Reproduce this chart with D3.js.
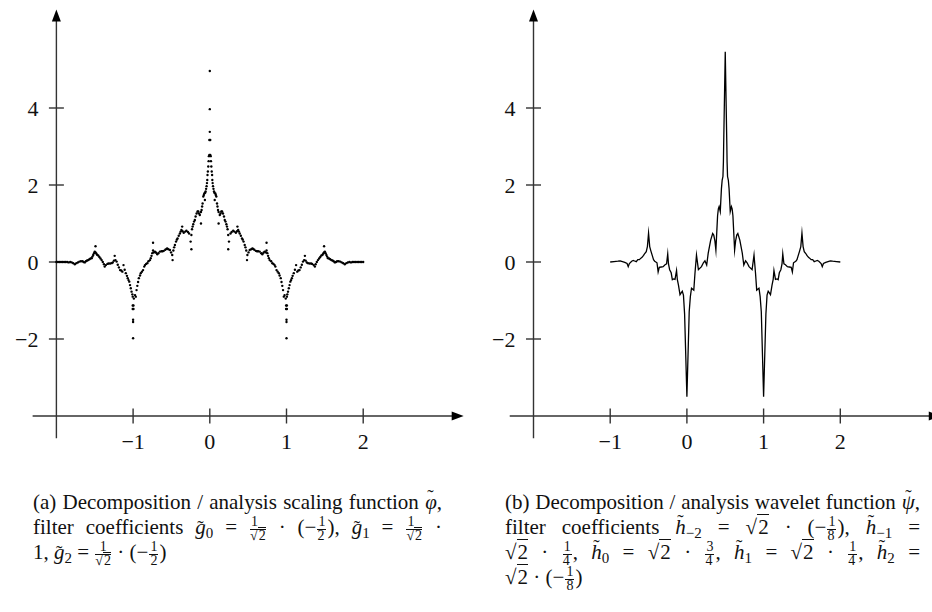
<!DOCTYPE html>
<html lang="en">
<head>
    <meta charset="UTF-8">
    <title>Decomposition scaling and wavelet functions</title>
    <script src="https://d3js.org/d3.v7.min.js"></script>
    <style>
        body {
            margin: 0;
            background: #fff;
            font-family: "Liberation Serif", "Times New Roman", serif;
        }
        #chart {
            position: absolute;
            left: 0;
            top: 0;
        }
        .tick-label {
            font-family: "Liberation Serif", "Times New Roman", serif;
            font-size: 22px;
            fill: #111;
        }
        .cap {
            position: absolute;
            font-size: 21px;
            color: #111;
        }
        .ln {
            height: 25px;
            line-height: 25px;
            white-space: nowrap;
        }
        .ln.j {
            text-align: justify;
            text-align-last: justify;
            white-space: normal;
        }
        .frac {
            display: inline-flex;
            flex-direction: column;
            vertical-align: middle;
            font-size: 14px;
            line-height: 12px;
            text-align: center;
            margin: 0 1px;
        }
        .frac .num {
            border-bottom: 1px solid #111;
            padding: 0 1px 1px 1px;
        }
        .sq {
            border-top: 1px solid #111;
            padding-left: 1px;
        }
        /* zero-width tilde accent, shifted over the preceding letter */
        .tz {
            display: inline-block;
            width: 0;
            position: relative;
            white-space: nowrap;
            font-style: normal;
            font-size: 19px;
        }
        .tz.g { left: -8.5px; top: 0px; }
        .tz.h { left: -8.5px; top: -6px; }
        .tz.p { left: -9.5px; top: -6px; }
        sub {
            font-size: 15px;
            line-height: 0;
            vertical-align: -4px;
        }
        i { font-style: italic; }
    </style>
</head>
<body>
    <svg id="chart" width="932" height="612"></svg>

    <div class="cap" style="left:33px; top:490px; width:409px">
        <div class="ln j">(a) Decomposition / analysis scaling function <i>φ</i><span class="tz p">˜</span>,</div>
        <div class="ln j">filter coefficients <i>g</i><span class="tz g">˜</span><sub>0</sub> = <span class="frac"><span class="num">1</span><span>√<span class="sq">2</span></span></span> · (−<span class="frac"><span class="num">1</span><span>2</span></span>), <i>g</i><span class="tz g">˜</span><sub>1</sub> = <span class="frac"><span class="num">1</span><span>√<span class="sq">2</span></span></span> ·</div>
        <div class="ln">1, <i>g</i><span class="tz g">˜</span><sub>2</sub> = <span class="frac"><span class="num">1</span><span>√<span class="sq">2</span></span></span> · (−<span class="frac"><span class="num">1</span><span>2</span></span>)</div>
    </div>

    <div class="cap" style="left:505px; top:490px; width:415px">
        <div class="ln j">(b) Decomposition / analysis wavelet function <i>ψ</i><span class="tz p">˜</span>,</div>
        <div class="ln j">filter coefficients <i>h</i><span class="tz h">˜</span><sub>−2</sub> = √<span class="sq">2</span> · (−<span class="frac"><span class="num">1</span><span>8</span></span>), <i>h</i><span class="tz h">˜</span><sub>−1</sub> =</div>
        <div class="ln j">√<span class="sq">2</span> · <span class="frac"><span class="num">1</span><span>4</span></span>, <i>h</i><span class="tz h">˜</span><sub>0</sub> = √<span class="sq">2</span> · <span class="frac"><span class="num">3</span><span>4</span></span>, <i>h</i><span class="tz h">˜</span><sub>1</sub> = √<span class="sq">2</span> · <span class="frac"><span class="num">1</span><span>4</span></span>, <i>h</i><span class="tz h">˜</span><sub>2</sub> =</div>
        <div class="ln">√<span class="sq">2</span> · (−<span class="frac"><span class="num">1</span><span>8</span></span>)</div>
    </div>

    <script>
        // tick values shared by both panels
        const xTicks = [-1, 0, 1, 2];
        const yTicks = [-2, 0, 2, 4];

        const scalingDots = [
            [-2.00,0],[-1.98,0],[-1.96,0],[-1.94,0],[-1.92,0],[-1.90,0],[-1.88,0],[-1.86,0],[-1.84,-0.01],[-1.82,0],
            [-1.80,-0.01],[-1.78,-0.03],[-1.76,-0.06],[-1.74,-0.03],[-1.72,-0.01],[-1.70,0.01],[-1.68,0.02],[-1.66,0.02],
            [-1.645,0.0],[-1.63,-0.01],[-1.615,0.02],[-1.60,0.04],[-1.585,0.05],[-1.57,0.07],[-1.555,0.09],[-1.54,0.10],
            [-1.53,0.14],[-1.52,0.18],[-1.51,0.23],[-1.50,0.27],[-1.49,0.41],[-1.49,0.25],[-1.48,0.22],[-1.47,0.19],
            [-1.455,0.17],[-1.44,0.13],[-1.425,0.09],[-1.41,0.05],[-1.395,0.0],[-1.38,-0.06],[-1.37,-0.12],[-1.355,-0.08],
            [-1.335,-0.05],[-1.32,-0.04],[-1.30,-0.04],[-1.28,-0.03],[-1.265,-0.01],[-1.25,0.035],[-1.24,0.16],[-1.23,0.05],
            [-1.215,0.01],[-1.20,-0.07],[-1.185,-0.14],[-1.17,-0.21],[-1.155,-0.22],[-1.14,-0.25],[-1.125,-0.08],[-1.11,-0.20],
            [-1.095,-0.29],[-1.08,-0.36],[-1.07,-0.42],[-1.06,-0.47],[-1.05,-0.51],[-1.04,-0.60],[-1.03,-0.68],[-1.02,-0.77],
            [-1.01,-0.84],[-1.005,-0.90],[-1.005,-1.13],[-1.005,-1.22],[-1.0,-1.50],[-1.0,-1.56],[-1.0,-1.98],
            [-0.995,-1.13],[-0.995,-1.22],[-0.99,-0.95],[-0.975,-0.86],[-0.965,-0.90],[-0.955,-0.73],[-0.945,-0.62],
            [-0.935,-0.52],[-0.925,-0.42],[-0.91,-0.35],[-0.90,-0.29],[-0.885,-0.25],[-0.87,-0.21],[-0.855,-0.12],
            [-0.845,-0.08],[-0.83,-0.05],[-0.815,-0.03],[-0.80,0.02],[-0.78,0.05],[-0.77,0.10],[-0.76,0.16],[-0.75,0.23],
            [-0.74,0.50],[-0.74,0.30],[-0.73,0.25],[-0.715,0.27],[-0.70,0.24],[-0.685,0.20],[-0.67,0.23],[-0.65,0.27],
            [-0.63,0.28],[-0.615,0.28],[-0.60,0.29],[-0.58,0.32],[-0.565,0.34],[-0.555,0.35],[-0.54,0.33],[-0.52,0.31],
            [-0.505,0.25],[-0.49,0.18],[-0.485,0.05],[-0.475,0.30],[-0.465,0.38],[-0.455,0.44],[-0.44,0.53],[-0.43,0.58],
            [-0.42,0.61],[-0.405,0.68],[-0.39,0.74],[-0.38,0.79],[-0.37,0.83],[-0.36,0.92],[-0.355,0.80],[-0.34,0.76],
            [-0.32,0.79],[-0.305,0.81],[-0.285,0.78],[-0.27,0.74],[-0.25,0.53],[-0.24,0.33],[-0.24,0.70],[-0.232,0.85],
            [-0.224,0.92],[-0.216,0.98],[-0.205,1.05],[-0.195,1.09],[-0.185,1.18],[-0.172,1.26],[-0.16,1.31],[-0.15,1.31],
            [-0.14,1.26],[-0.13,1.22],[-0.115,1.00],[-0.115,1.30],[-0.107,1.35],[-0.10,1.44],[-0.094,1.52],[-0.085,1.70],
            [-0.078,1.74],[-0.072,1.78],[-0.064,1.61],[-0.06,1.80],[-0.055,1.83],[-0.048,1.90],[-0.042,1.97],[-0.037,2.05],
            [-0.033,2.13],[-0.03,2.26],[-0.025,2.35],[-0.02,2.48],[-0.015,2.62],[-0.012,2.75],[-0.006,2.78],[-0.006,3.17],
            [0,3.38],[0,3.97],[0,4.96],
            [0.006,3.17],[0.006,2.78],[0.012,2.75],[0.015,2.62],[0.02,2.48],[0.025,2.35],[0.03,2.26],[0.033,2.13],
            [0.037,2.05],[0.042,1.97],[0.048,1.90],[0.055,1.83],[0.06,1.80],[0.064,1.61],[0.072,1.78],[0.078,1.74],
            [0.085,1.70],[0.094,1.52],[0.10,1.44],[0.107,1.35],[0.115,1.30],[0.115,1.00],[0.13,1.22],[0.14,1.26],
            [0.15,1.31],[0.16,1.31],[0.172,1.26],[0.185,1.18],[0.195,1.09],[0.205,1.05],[0.216,0.98],[0.224,0.92],
            [0.232,0.85],[0.24,0.70],[0.24,0.33],[0.25,0.53],[0.27,0.74],[0.285,0.78],[0.305,0.81],[0.32,0.79],
            [0.34,0.76],[0.355,0.80],[0.36,0.92],[0.37,0.83],[0.38,0.79],[0.39,0.74],[0.405,0.68],[0.42,0.61],
            [0.43,0.58],[0.44,0.53],[0.455,0.44],[0.465,0.38],[0.475,0.30],[0.485,0.05],[0.49,0.18],[0.505,0.25],
            [0.52,0.31],[0.54,0.33],[0.555,0.35],[0.565,0.34],[0.58,0.32],[0.60,0.29],[0.615,0.28],[0.63,0.28],
            [0.65,0.27],[0.67,0.23],[0.685,0.20],[0.70,0.24],[0.715,0.27],[0.73,0.25],[0.74,0.30],[0.74,0.50],
            [0.75,0.23],[0.76,0.16],[0.77,0.10],[0.78,0.05],[0.80,0.02],[0.815,-0.03],[0.83,-0.05],[0.845,-0.08],
            [0.855,-0.12],[0.87,-0.21],[0.885,-0.25],[0.90,-0.29],[0.91,-0.35],[0.925,-0.42],[0.935,-0.52],[0.945,-0.62],
            [0.955,-0.73],[0.965,-0.90],[0.975,-0.86],[0.99,-0.95],[0.995,-1.22],[0.995,-1.13],
            [1.0,-1.98],[1.0,-1.56],[1.0,-1.50],[1.005,-1.22],[1.005,-1.13],[1.005,-0.90],[1.01,-0.84],[1.02,-0.77],
            [1.03,-0.68],[1.04,-0.60],[1.05,-0.51],[1.06,-0.47],[1.07,-0.42],[1.08,-0.36],[1.095,-0.29],[1.11,-0.20],
            [1.125,-0.08],[1.14,-0.25],[1.155,-0.22],[1.17,-0.21],[1.185,-0.14],[1.20,-0.07],[1.215,0.01],[1.23,0.05],
            [1.24,0.16],[1.25,0.035],[1.265,-0.01],[1.28,-0.03],[1.30,-0.04],[1.32,-0.04],[1.335,-0.05],[1.355,-0.08],
            [1.37,-0.12],[1.38,-0.06],[1.395,0.0],[1.41,0.05],[1.425,0.09],[1.44,0.13],[1.455,0.17],[1.47,0.19],
            [1.48,0.22],[1.49,0.25],[1.49,0.41],[1.50,0.27],[1.51,0.23],[1.52,0.18],[1.53,0.14],[1.54,0.10],
            [1.555,0.09],[1.57,0.07],[1.585,0.05],[1.60,0.04],[1.615,0.02],[1.63,-0.01],[1.645,0.0],[1.66,0.02],
            [1.68,0.02],[1.70,0.01],[1.72,-0.01],[1.74,-0.03],[1.76,-0.06],[1.78,-0.03],[1.80,-0.01],[1.82,0],
            [1.84,-0.01],[1.86,0],[1.88,0],[1.90,0],[1.92,0],[1.94,0],[1.96,0],[1.98,0],[2.00,0]
        ];

        // (b) wavelet function, polyline vertices: [t, psi(t)]
        const waveletPts = [
            [-1.00,0],[-0.95,0.01],[-0.90,0.02],[-0.87,0.03],[-0.84,0.01],[-0.81,-0.01],[-0.78,-0.04],[-0.765,-0.12],
            [-0.75,-0.04],[-0.72,0.02],[-0.70,0.04],[-0.675,0.02],[-0.66,0.01],[-0.64,0.06],[-0.62,0.06],[-0.60,0.10],
            [-0.585,0.12],[-0.565,0.17],[-0.55,0.22],[-0.53,0.27],[-0.515,0.40],[-0.50,0.75],[-0.485,0.40],[-0.47,0.29],
            [-0.45,0.16],[-0.435,0.06],[-0.42,0.02],[-0.405,0.00],[-0.39,-0.02],[-0.375,-0.26],[-0.36,-0.14],[-0.335,-0.13],
            [-0.31,-0.12],[-0.285,-0.07],[-0.265,-0.05],[-0.25,0.21],[-0.24,-0.05],[-0.225,-0.20],[-0.205,-0.28],
            [-0.19,-0.46],[-0.175,-0.44],[-0.155,-0.45],[-0.135,-0.22],[-0.125,-0.45],[-0.11,-0.60],[-0.09,-0.85],
            [-0.075,-0.80],[-0.06,-0.76],[-0.045,-0.86],[-0.03,-1.35],[0.00,-3.50],[0.03,-1.29],[0.045,-0.90],
            [0.06,-0.68],[0.09,-0.73],[0.105,-0.30],[0.125,0.18],[0.15,-0.20],[0.19,-0.12],[0.215,-0.02],[0.235,0.03],
            [0.258,-0.08],[0.278,0.23],[0.31,0.57],[0.336,0.74],[0.35,0.70],[0.365,0.55],[0.378,0.31],[0.39,0.80],
            [0.40,1.20],[0.41,1.38],[0.42,1.44],[0.435,1.31],[0.45,1.90],[0.46,2.13],[0.47,2.22],[0.476,2.60],
            [0.479,3.00],[0.50,5.46],
            [0.521,3.00],[0.524,2.60],[0.53,2.22],[0.54,2.13],[0.55,1.90],[0.565,1.31],[0.58,1.44],[0.59,1.38],
            [0.60,1.20],[0.61,0.80],[0.622,0.31],[0.635,0.55],[0.65,0.70],[0.664,0.74],[0.69,0.57],[0.722,0.23],
            [0.742,-0.08],[0.765,0.03],[0.785,-0.02],[0.81,-0.12],[0.85,-0.20],[0.875,0.18],[0.895,-0.30],[0.91,-0.73],
            [0.94,-0.68],[0.955,-0.90],[0.97,-1.29],[1.00,-3.50],[1.03,-1.35],[1.045,-0.86],[1.06,-0.76],[1.075,-0.80],
            [1.09,-0.85],[1.11,-0.60],[1.125,-0.45],[1.135,-0.22],[1.155,-0.45],[1.175,-0.44],[1.19,-0.46],[1.205,-0.28],
            [1.225,-0.20],[1.24,-0.05],[1.25,0.21],[1.265,-0.05],[1.285,-0.07],[1.31,-0.12],[1.335,-0.13],[1.36,-0.14],
            [1.375,-0.26],[1.39,-0.02],[1.405,0.00],[1.42,0.02],[1.435,0.06],[1.45,0.16],[1.47,0.29],[1.485,0.40],
            [1.50,0.75],[1.515,0.40],[1.53,0.27],[1.55,0.22],[1.565,0.17],[1.585,0.12],[1.60,0.10],[1.62,0.06],
            [1.64,0.06],[1.66,0.01],[1.675,0.02],[1.70,0.04],[1.72,0.02],[1.75,-0.04],[1.765,-0.12],[1.78,-0.04],
            [1.81,-0.01],[1.84,0.01],[1.87,0.03],[1.90,0.02],[1.95,0.01],[2.00,0]
        ];

        const svg = d3.select("#chart");
        const axisColor = "#333";

        function drawPanel(left) {
            const x = d3.scaleLinear().domain([-2, 2]).range([left, left + 306.8]);
            const y = d3.scaleLinear().domain([-4, 4]).range([416, 108]);
            const g = svg.append("g");

            // x axis with arrow
            g.append("line")
                .attr("x1", x(-2.31)).attr("x2", x(3.16))
                .attr("y1", y(-4)).attr("y2", y(-4))
                .attr("stroke", axisColor).attr("stroke-width", 1.4);
            g.append("path")
                .attr("d", `M${x(3.31)},${y(-4)} L${x(3.31) - 12},${y(-4) - 4.5} L${x(3.31) - 12},${y(-4) + 4.5} Z`)
                .attr("fill", "#000");

            // y axis with arrow
            g.append("line")
                .attr("x1", x(-2)).attr("x2", x(-2))
                .attr("y1", y(-4.58)).attr("y2", y(6.3))
                .attr("stroke", axisColor).attr("stroke-width", 1.4);
            g.append("path")
                .attr("d", `M${x(-2)},${y(6.56)} L${x(-2) - 4.5},${y(6.56) + 12} L${x(-2) + 4.5},${y(6.56) + 12} Z`)
                .attr("fill", "#000");

            // ticks
            g.selectAll(".xt").data(xTicks).enter().append("line")
                .attr("x1", d => x(d)).attr("x2", d => x(d))
                .attr("y1", y(-4) - 7.5).attr("y2", y(-4) + 7.5)
                .attr("stroke", axisColor).attr("stroke-width", 1.4);
            g.selectAll(".yt").data(yTicks).enter().append("line")
                .attr("x1", x(-2) - 7.5).attr("x2", x(-2) + 7.5)
                .attr("y1", d => y(d)).attr("y2", d => y(d))
                .attr("stroke", axisColor).attr("stroke-width", 1.4);

            g.selectAll(".xl").data(xTicks).enter().append("text")
                .attr("class", "tick-label")
                .attr("x", d => x(d))
                .attr("y", y(-4) + 32.5)
                .attr("text-anchor", "middle")
                .text(d => d < 0 ? "\u2212" + Math.abs(d) : d);
            g.selectAll(".yl").data(yTicks).enter().append("text")
                .attr("class", "tick-label")
                .attr("x", x(-2) - 18)
                .attr("y", d => y(d) + 7.5)
                .attr("text-anchor", "end")
                .text(d => d < 0 ? "\u2212" + Math.abs(d) : d);

            return { g, x, y };
        }

        const pa = drawPanel(56.4);
        pa.g.selectAll(".dot").data(scalingDots).enter().append("circle")
            .attr("cx", d => pa.x(d[0]))
            .attr("cy", d => pa.y(d[1]))
            .attr("r", 1.2)
            .attr("fill", "#000");

        const pb = drawPanel(533.5);
        const line = d3.line().x(d => pb.x(d[0])).y(d => pb.y(d[1]));
        pb.g.append("path")
            .datum(waveletPts)
            .attr("d", line)
            .attr("fill", "none")
            .attr("stroke", "#000")
            .attr("stroke-width", 1.3)
            .attr("stroke-linejoin", "miter")
            .attr("stroke-miterlimit", 20);
    </script>
</body>
</html>
